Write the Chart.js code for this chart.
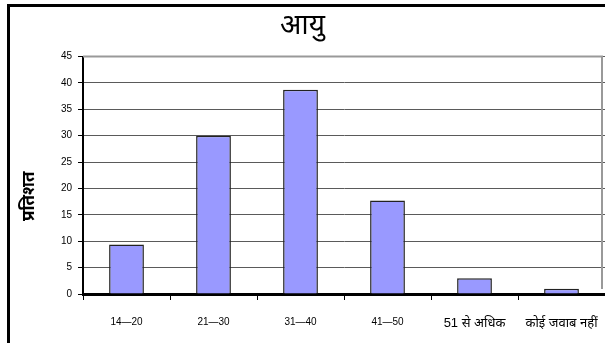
<!DOCTYPE html>
<html>
<head>
<meta charset="utf-8">
<script src="https://cdn.jsdelivr.net/npm/chart.js@4/dist/chart.umd.min.js"></script>
<style>
  html, body { margin: 0; padding: 0; background: #fff; }
  #wrap { position: relative; width: 605px; height: 343px; overflow: hidden; }
  #frame { position: absolute; left: 7px; top: 4px; width: 700px; height: 400px;
           border-left: 3px solid #000; border-top: 3px solid #000; }
  canvas { position: absolute; left: 0; top: 0; }
</style>
</head>
<body>
<div id="wrap">
  <div id="frame"></div>
  <canvas id="c" width="605" height="343"></canvas>
</div>
<script>
// Age groups and share of respondents (%)
const categories = ['14—20', '21—30', '31—40', '41—50', '51 से अधिक', 'कोई जवाब नहीं'];
const percentValues = [9.4, 30, 38.7, 17.7, 3, 1];
const yTicks = [0, 5, 10, 15, 20, 25, 30, 35, 40, 45];

const chartTitle = 'आयु';
const yAxisTitle = 'प्रतिशत';

const baseFont = 'Arial, "Liberation Sans", "Noto Sans", sans-serif';

// thin grey frame on the top and right of the plot area
const plotFrame = {
  id: 'plotFrame',
  beforeDatasetsDraw(chart) {
    const { ctx, chartArea: a } = chart;
    ctx.save();
    ctx.strokeStyle = '#999';
    ctx.lineWidth = 2;
    ctx.beginPath();
    ctx.moveTo(a.left, a.top);
    ctx.lineTo(a.right - 3, a.top);
    ctx.lineTo(a.right - 3, a.bottom - 5);
    ctx.stroke();
    ctx.restore();
  }
};

// vertical axis caption, set a little below the middle of the axis
const yCaption = {
  id: 'yCaption',
  afterDraw(chart) {
    const { ctx, chartArea: a } = chart;
    ctx.save();
    ctx.translate(29, (a.top + a.bottom) / 2 + 21);
    ctx.rotate(-Math.PI / 2);
    ctx.textAlign = 'center';
    ctx.textBaseline = 'middle';
    ctx.fillStyle = '#000';
    ctx.font = 'bold 17px ' + baseFont;
    ctx.fillText(yAxisTitle, 0, 0);
    ctx.restore();
  }
};

new Chart(document.getElementById('c'), {
  type: 'bar',
  data: {
    labels: categories,
    datasets: [{
      data: percentValues,
      backgroundColor: '#9999FF',
      borderColor: '#222',
      borderWidth: 1.5,
      barPercentage: 0.4,
      categoryPercentage: 1.0
    }]
  },
  options: {
    responsive: false,
    animation: false,
    layout: { padding: { left: 0, right: 0, top: 0, bottom: 0 } },
    plugins: {
      legend: { display: false },
      tooltip: { enabled: false },
      title: {
        display: true,
        text: chartTitle,
        color: '#000',
        font: { family: baseFont, size: 28, weight: 'normal' },
        padding: { top: 9, bottom: 14 }
      }
    },
    scales: {
      x: {
        grid: { drawOnChartArea: false, drawTicks: true, tickLength: 6, tickColor: '#000', offset: true },
        border: { color: '#000', width: 3 },
        ticks: {
          color: '#000',
          font: (c) => ({ family: baseFont, size: c.index >= 4 ? 13 : 10 }),
          padding: 16, maxRotation: 0, autoSkip: false
        },
        afterFit(s) { s.height = 49; s.paddingLeft = 0; s.paddingRight = 0; }
      },
      y: {
        min: 0,
        max: 45,
        afterBuildTicks(s) { s.ticks = yTicks.map(v => ({ value: v })); },
        grid: { color: '#5a5a5a', lineWidth: 1, tickLength: 5, tickColor: '#000' },
        border: { color: '#000', width: 2 },
        ticks: { color: '#000', font: { family: baseFont, size: 10 }, padding: 6 },
        afterFit(s) { s.width = 83; }
      }
    }
  },
  plugins: [plotFrame, yCaption]
});
</script>
</body>
</html>
